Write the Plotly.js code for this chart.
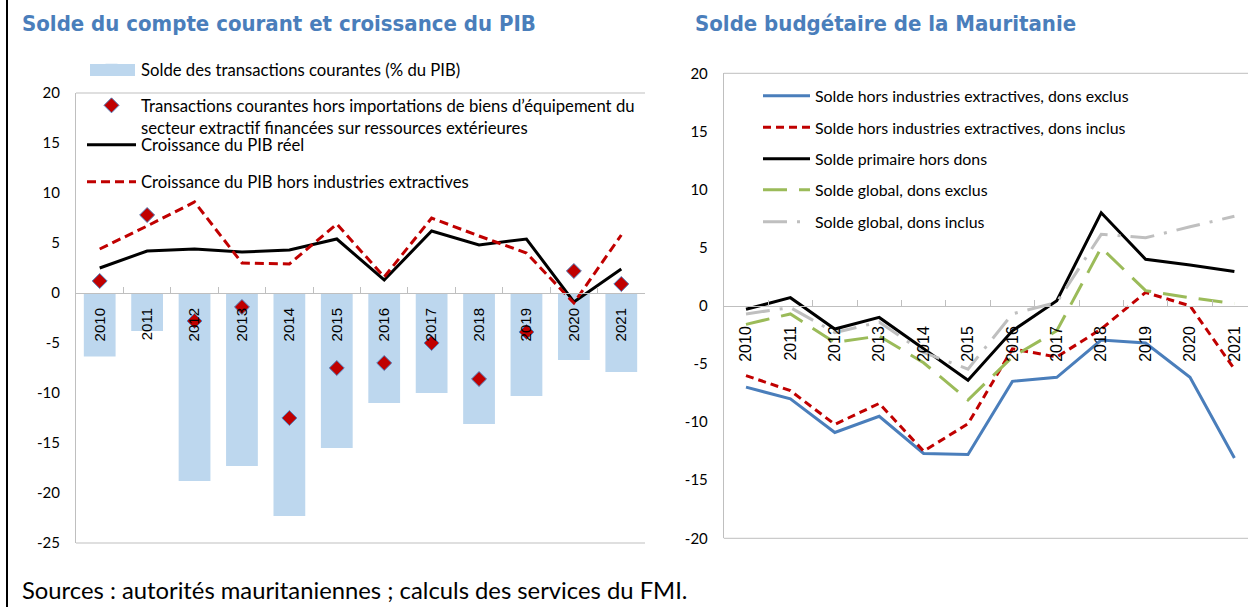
<!DOCTYPE html>
<html><head><meta charset="utf-8">
<script src="https://cdn.plot.ly/plotly-3.0.1.min.js"></script>
<style>
html,body{margin:0;padding:0;overflow:hidden;background:#fff}
#chart{width:1248px;height:607px;position:absolute;left:0;top:0}
#frame{position:absolute;left:6px;top:0;width:2px;height:607px;background:#000}
</style></head><body><div id="chart"></div><div id="frame"></div>
<script>
// ---------- DATA ----------
const years = ['2010','2011','2012','2013','2014','2015','2016','2017','2018','2019','2020','2021'];

// Left chart: current account and GDP growth
const caBalance        = [-6.35, -3.8, -18.8, -17.3, -22.3, -15.5, -11.0, -10.0, -13.1, -10.3, -6.7, -7.9];
const caExclImports    = [1.2, 7.8, -2.8, -1.4, -12.5, -7.5, -7.0, -5.0, -8.6, -3.9, 2.2, 0.9];
const realGdpGrowth    = [2.5, 4.2, 4.4, 4.1, 4.3, 5.4, 1.3, 6.2, 4.8, 5.4, -0.9, 2.4];
const nonExtrGdpGrowth = [4.4, 6.7, 9.1, 3.0, 2.9, 6.9, 1.6, 7.5, 5.7, 4.0, -1.0, 5.8];

// Right chart: budget balance
const nonExtrExclGrants = [-7.0, -8.0, -10.9, -9.5, -12.7, -12.8, -6.5, -6.15, -2.95, -3.2, -6.15, -13.1];
const nonExtrInclGrants = [-6.0, -7.3, -10.2, -8.4, -12.5, -10.15, -3.7, -4.4, -2.0, 1.15, 0.0, -5.45];
const primaryExclGrants = [-0.3, 0.7, -2.0, -1.0, -3.7, -6.4, -2.15, 0.43, 8.0, 4.0, 3.5, 2.95];
const overallExclGrants = [-1.6, -0.7, -3.15, -2.6, -4.9, -8.1, -4.4, -2.15, 5.0, 1.3, 0.7, 0.2];
const overallInclGrants = [-0.7, -0.15, -2.3, -1.4, -4.0, -5.45, -0.7, 0.3, 6.15, 5.85, 6.8, 7.7];

// Tick labels (hyphen minus as in the reference)
const leftTickVals  = [-25, -20, -15, -10, -5, 0, 5, 10, 15, 20];
const leftTickText  = ['-25', '-20', '-15', '-10', '-5', '0', '5', '10', '15', '20'];
const rightTickVals = [-20, -15, -10, -5, 0, 5, 10, 15, 20];
const rightTickText = ['-20', '-15', '-10', '-5', '0', '5', '10', '15', '20'];

const names = {
  ca: 'Solde des transactions courantes (% du PIB)',
  caEx: 'Transactions courantes hors importations de biens d\u2019équipement du<br>secteur extractif financées sur ressources extérieures',
  gdp: 'Croissance du PIB réel',
  gdpNe: 'Croissance du PIB hors industries extractives',
  b1: 'Solde hors industries extractives, dons exclus',
  b2: 'Solde hors industries extractives, dons inclus',
  b3: 'Solde primaire hors dons',
  b4: 'Solde global, dons exclus',
  b5: 'Solde global, dons inclus'
};
const titles = ['Solde du compte courant et croissance du PIB', 'Solde budgétaire de la Mauritanie'];
const sourceText = 'Sources : autorités mauritaniennes ; calculs des services du FMI.';

// ---------- LAYOUT HELPERS ----------
const W = 1248, H = 607;
const fx = px => px / W;
const fy = px => 1 - px / H;

const LF = 'Lato, "Open Sans", sans-serif';
const YF = '"Liberation Sans", Arial, sans-serif';
const TF = '"Liberation Sans Narrow", "DejaVu Sans Condensed", Lato, sans-serif';
const blueTitle = '#4A7EBB';
const axisGray = '#BFBFBF';

const L = {x0: 76, x1: 645, y0: 93, y1: 543, ymin: -25, ymax: 20};
const R = {x0: 723.8, x1: 1248, y0: 73.3, y1: 538.3, ymin: -20, ymax: 20, cat: 44.4};

const zeroPos = (B) => fy(B.y1) + (0 - B.ymin) / (B.ymax - B.ymin) * (fy(B.y0) - fy(B.y1));

const data = [
  {type: 'bar', x: years, y: caBalance, name: names.ca, marker: {color: '#BDD7EE'},
   width: 0.67, xaxis: 'x', yaxis: 'y', legend: 'legend'},
  {type: 'scatter', mode: 'markers', x: years, y: caExclImports, name: names.caEx,
   marker: {symbol: 'diamond', size: 11.5, color: '#C00000', line: {color: '#4F81BD', width: 1}},
   xaxis: 'x', yaxis: 'y', legend: 'legend2'},
  {type: 'scatter', mode: 'lines', x: years, y: realGdpGrowth, name: names.gdp,
   line: {color: '#000000', width: 3}, xaxis: 'x', yaxis: 'y', legend: 'legend3'},
  {type: 'scatter', mode: 'lines', x: years, y: nonExtrGdpGrowth, name: names.gdpNe,
   line: {color: '#C00000', width: 3, dash: '9px,5px'}, xaxis: 'x', yaxis: 'y', legend: 'legend4'},

  {type: 'scatter', mode: 'lines', x: years, y: nonExtrExclGrants, name: names.b1,
   line: {color: '#4A7EBB', width: 3}, xaxis: 'x2', yaxis: 'y2', legend: 'legend5'},
  {type: 'scatter', mode: 'lines', x: years, y: nonExtrInclGrants, name: names.b2,
   line: {color: '#C00000', width: 3, dash: '8px,5px'}, xaxis: 'x2', yaxis: 'y2', legend: 'legend6'},
  {type: 'scatter', mode: 'lines', x: years, y: primaryExclGrants, name: names.b3,
   line: {color: '#000000', width: 3}, xaxis: 'x2', yaxis: 'y2', legend: 'legend7'},
  {type: 'scatter', mode: 'lines', x: years, y: overallExclGrants, name: names.b4,
   line: {color: '#9BBB59', width: 3, dash: '24px,12px'}, xaxis: 'x2', yaxis: 'y2', legend: 'legend8'},
  {type: 'scatter', mode: 'lines', x: years, y: overallInclGrants, name: names.b5,
   line: {color: '#BFBFBF', width: 3, dash: '24px,10px,3px,10px'}, xaxis: 'x2', yaxis: 'y2', legend: 'legend9'}
];

const xBase = {
  type: 'category', anchor: 'free', showline: true, linecolor: axisGray, linewidth: 1,
  ticks: 'inside', ticklen: 6, tickcolor: axisGray, tickson: 'boundaries', tickangle: -90,
  showgrid: false, zeroline: false, fixedrange: true
};
const yBase = {
  showline: true, linecolor: axisGray, linewidth: 1, showgrid: false, zeroline: false,
  tickmode: 'array', ticks: '', tickfont: {family: LF, size: 15, color: '#000'}, fixedrange: true
};

function leg(xpx, ypx, anchor, size, iw) {
  return {x: fx(xpx), y: fy(ypx), xanchor: 'left', yanchor: anchor || 'middle',
    bgcolor: 'rgba(0,0,0,0)', borderwidth: 0, itemwidth: iw || 49, valign: 'top',
    font: {family: LF, size: size || 16.7, color: '#000'}, itemclick: false, itemdoubleclick: false,
    tracegroupgap: 0};
}

const layout = {
  width: W, height: H,
  margin: {l: 0, r: 0, t: 0, b: 0, autoexpand: false},
  paper_bgcolor: '#fff', plot_bgcolor: 'rgba(0,0,0,0)',
  showlegend: true,
  xaxis: Object.assign({}, xBase, {
    domain: [fx(L.x0), fx(L.x1)], position: zeroPos(L), range: [-0.5, 11.5],
    tickfont: {family: YF, size: 15, color: '#000'}, ticklabelstandoff: 8
  }),
  yaxis: Object.assign({}, yBase, {
    domain: [fy(L.y1), fy(L.y0)], anchor: 'x', range: [L.ymin, L.ymax], ticklabelstandoff: 12,
    tickvals: leftTickVals, ticktext: leftTickText
  }),
  xaxis2: Object.assign({}, xBase, {
    domain: [fx(R.x0), fx(R.x1)], position: zeroPos(R),
    range: [-0.5, -0.5 + (R.x1 - R.x0) / R.cat],
    tickfont: {family: YF, size: 16, color: '#000'}, ticklabelstandoff: 13
  }),
  yaxis2: Object.assign({}, yBase, {
    domain: [fy(R.y1), fy(R.y0)], anchor: 'x2', range: [R.ymin, R.ymax], ticklabelstandoff: 12,
    tickvals: rightTickVals, ticktext: rightTickText
  }),
  legend: leg(82, 70),
  legend2: leg(82, 88, 'top'),
  legend3: leg(82, 145),
  legend4: leg(82, 182),
  legend5: leg(758, 96, 'middle', 15.9, 47),
  legend6: leg(758, 127.5, 'middle', 15.9, 47),
  legend7: leg(758, 159, 'middle', 15.9, 47),
  legend8: leg(758, 190, 'middle', 15.9, 47),
  legend9: leg(758, 222, 'middle', 15.9, 47),
  shapes: [
    {type: 'line', xref: 'x domain', yref: 'y domain', x0: 0, x1: 1, y0: 1, y1: 1, line: {color: axisGray, width: 1}},
    {type: 'line', xref: 'x domain', yref: 'y domain', x0: 0, x1: 1, y0: 0, y1: 0, line: {color: axisGray, width: 1}},
    {type: 'line', xref: 'x2 domain', yref: 'y2 domain', x0: 0, x1: 1, y0: 1, y1: 1, line: {color: axisGray, width: 1}},
    {type: 'line', xref: 'x2 domain', yref: 'y2 domain', x0: 0, x1: 1, y0: 0, y1: 0, line: {color: axisGray, width: 1}},
    {type: 'rect', xref: 'paper', yref: 'paper', x0: fx(90), x1: fx(135), y0: fy(76), y1: fy(64),
     fillcolor: '#BDD7EE', line: {width: 0}, layer: 'above'}
  ],
  annotations: [
    {text: '<b>' + titles[0] + '</b>', xref: 'paper', yref: 'paper', x: fx(20), y: fy(24),
     xanchor: 'left', yanchor: 'middle', showarrow: false, font: {family: TF, size: 22, color: blueTitle}},
    {text: '<b>' + titles[1] + '</b>', xref: 'paper', yref: 'paper', x: fx(693), y: fy(24),
     xanchor: 'left', yanchor: 'middle', showarrow: false, font: {family: TF, size: 22, color: blueTitle}},
    {text: sourceText, xref: 'paper', yref: 'paper', x: fx(20), y: fy(590),
     xanchor: 'left', yanchor: 'middle', showarrow: false, font: {family: LF, size: 23.8, color: '#000'}}
  ]
};

Plotly.newPlot('chart', data, layout, {displayModeBar: false, staticPlot: true});
</script>
</body></html>
